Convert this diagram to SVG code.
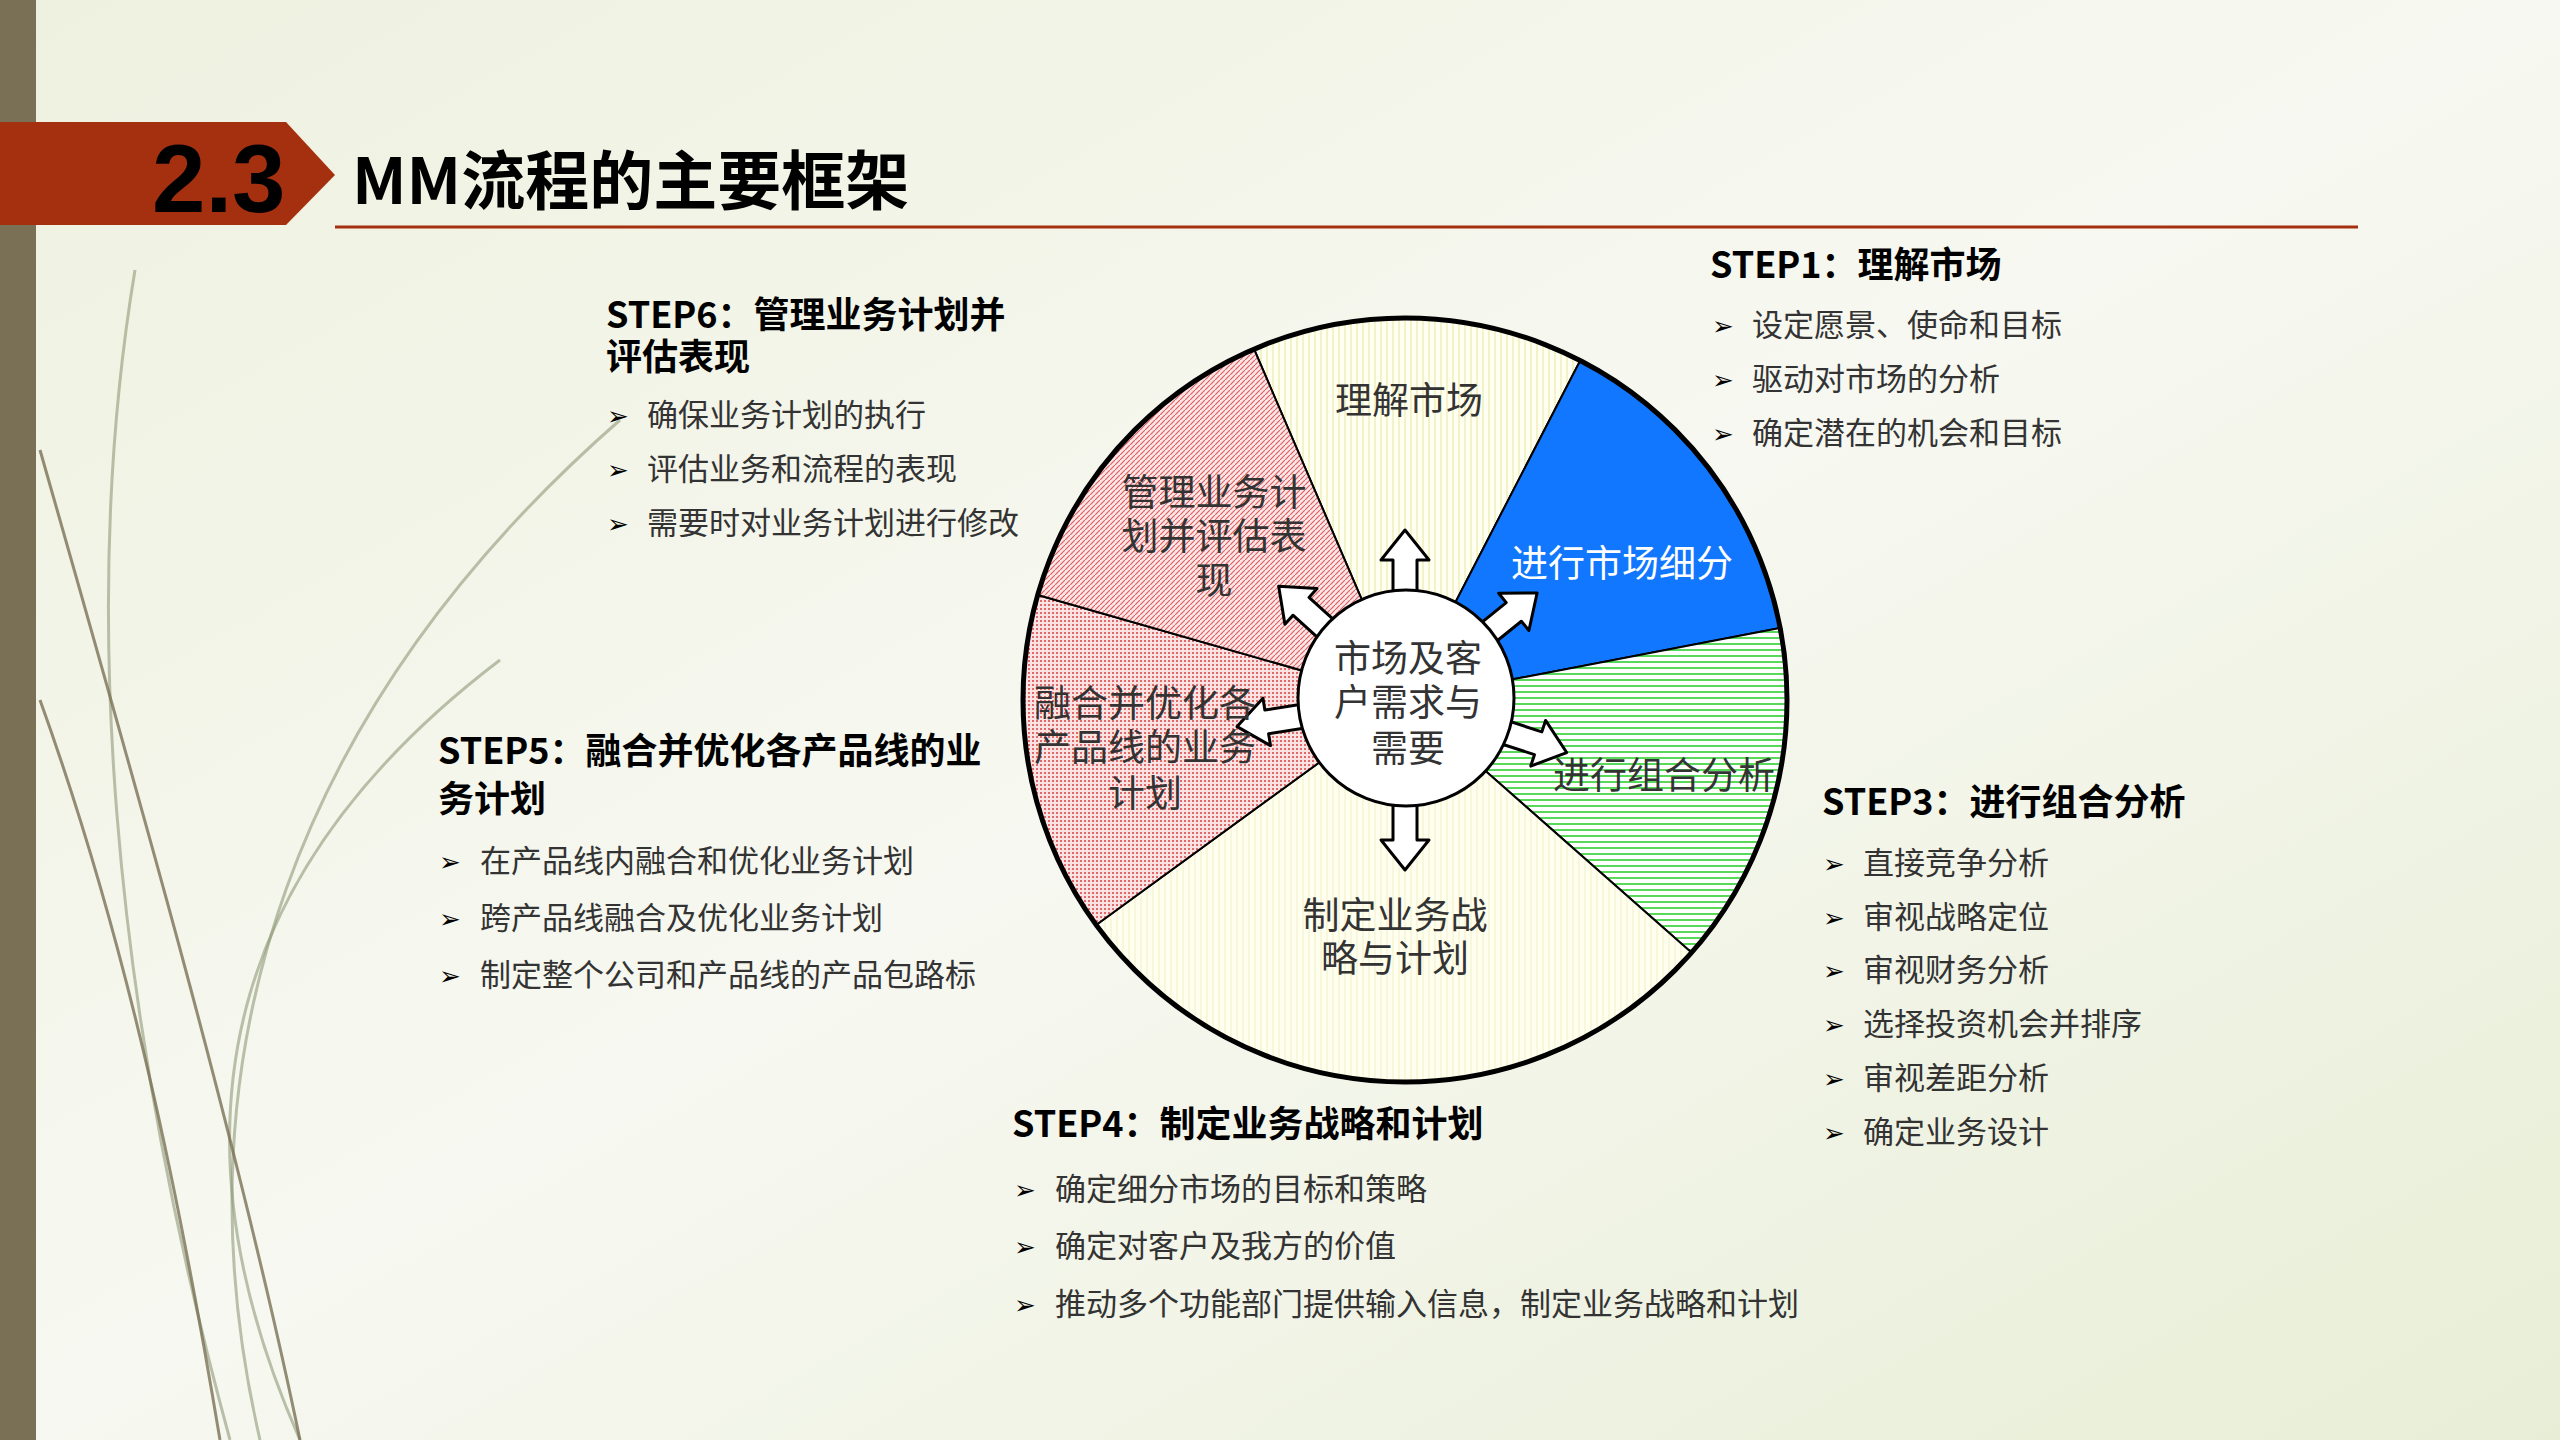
<svg xmlns="http://www.w3.org/2000/svg" width="2560" height="1440" viewBox="0 0 2560 1440">
<defs>
<linearGradient id="bg" x1="0" y1="0" x2="1" y2="1"><stop offset="0" stop-color="#eef1df"/><stop offset="0.5" stop-color="#f7f8f1"/><stop offset="1" stop-color="#e8eed6"/></linearGradient>
<pattern id="pY" width="6" height="6" patternUnits="userSpaceOnUse"><rect width="6" height="6" fill="#fffff2"/><line x1="1" y1="0" x2="1" y2="6" stroke="#e8e6a0" stroke-width="1"/></pattern>
<pattern id="pR" width="5" height="5" patternUnits="userSpaceOnUse"><rect width="5" height="5" fill="#fbe7e7"/><path d="M0 5L5 0" stroke="#e06060" stroke-width="1.2"/></pattern>
<pattern id="pD" width="4" height="4" patternUnits="userSpaceOnUse"><rect width="4" height="4" fill="#fbe3e3"/><rect width="2" height="2" fill="#e06a6a"/></pattern>
<pattern id="pG" width="6" height="6" patternUnits="userSpaceOnUse"><rect width="6" height="6" fill="#fff"/><line x1="0" y1="2" x2="6" y2="2" stroke="#22cc22" stroke-width="1.5"/></pattern>
<pattern id="pW" width="6" height="6" patternUnits="userSpaceOnUse"><rect width="6" height="6" fill="#fffff0"/><line x1="1" y1="0" x2="1" y2="6" stroke="#f2f0c8" stroke-width="1"/></pattern>
<polygon id="arr" points="95,-12 140,-12 140,-24 170,0 140,24 140,12 95,12" fill="#fff" stroke="#000" stroke-width="3" stroke-linejoin="round"/>
</defs>
<style>
.h{font-family:"Noto Sans CJK SC",sans-serif;font-weight:bold;fill:#000;font-size:36px}
.b{font-family:"Noto Sans CJK SC",sans-serif;fill:#333;font-size:31px}
.w{font-family:"Noto Sans CJK SC",sans-serif;fill:#333;font-size:37px;text-anchor:middle}
.bl{font-family:"DejaVu Sans",sans-serif;fill:#000;font-size:26px}
.dec{fill:none;stroke:#8f9a78;stroke-width:3;opacity:0.6}
</style>
<rect width="2560" height="1440" fill="url(#bg)"/>
<rect x="0" y="0" width="36" height="1440" fill="#7a7055"/>
<g id="decor">
<path class="dec" d="M135 270 C80 600 110 1000 230 1440"/>
<path class="dec" d="M500 660 C250 850 150 1100 300 1440"/>
<path class="dec" d="M620 420 C300 700 170 1050 260 1440"/>
<path class="dec" d="M40 450 C140 800 240 1150 300 1440" style="stroke:#7a7055;opacity:0.8"/>
<path class="dec" d="M40 700 C130 950 180 1200 220 1440" style="stroke:#7a7055;opacity:0.8"/>
</g>
<g id="title">
<polygon points="0,122 286,122 335,175 286,225 0,225" fill="#a5300f"/>
<line x1="335" y1="227" x2="2358" y2="227" stroke="#a5300f" stroke-width="3"/>
<text x="152" y="212" font-family="Liberation Sans,sans-serif" font-weight="bold" font-size="96" fill="#000">2.3</text>
<text x="352" y="204" font-family="Noto Sans CJK SC,sans-serif" font-size="64" font-weight="bold" fill="#000">MM流程的主要框架</text>
</g>
<g id="wheel">
<path d="M1405 700L1254 349A382 382 0 0 1 1580 361Z" fill="url(#pY)" stroke="#000" stroke-width="2"/>
<path d="M1405 700L1580 361A382 382 0 0 1 1780 628Z" fill="#1177ff" stroke="#000" stroke-width="2"/>
<path d="M1405 700L1780 628A382 382 0 0 1 1692 953Z" fill="url(#pG)" stroke="#000" stroke-width="2"/>
<path d="M1405 700L1692 953A382 382 0 0 1 1096 925Z" fill="url(#pW)" stroke="#000" stroke-width="2"/>
<path d="M1405 700L1096 925A382 382 0 0 1 1038 595Z" fill="url(#pD)" stroke="#000" stroke-width="2"/>
<path d="M1405 700L1038 595A382 382 0 0 1 1254 349Z" fill="url(#pR)" stroke="#000" stroke-width="2"/>
<circle cx="1405" cy="700" r="382" fill="none" stroke="#000" stroke-width="5"/>
</g>
<g id="arrows">
<use href="#arr" transform="translate(1405,700) rotate(-90)"/>
<use href="#arr" transform="translate(1405,700) rotate(-39)"/>
<use href="#arr" transform="translate(1405,700) rotate(18)"/>
<use href="#arr" transform="translate(1405,700) rotate(90)"/>
<use href="#arr" transform="translate(1405,700) rotate(171)"/>
<use href="#arr" transform="translate(1405,700) rotate(-138)"/>
</g>
<g id="center"><circle cx="1406" cy="698" r="108" fill="#fff" stroke="#000" stroke-width="3"/>
<text class="w" x="1408" y="672">市场及客</text><text class="w" x="1408" y="716">户需求与</text><text class="w" x="1408" y="762">需要</text></g>
<g id="labels">
<text class="w" x="1409" y="414">理解市场</text>
<text class="w" x="1214" y="506">管理业务计</text><text class="w" x="1214" y="550">划并评估表</text><text class="w" x="1214" y="594">现</text>
<text class="w" x="1622" y="577" fill="#fff" style="fill:#fff">进行市场细分</text>
<text class="w" x="1664" y="789">进行组合分析</text>
<text class="w" x="1145" y="717">融合并优化各</text><text class="w" x="1145" y="761">产品线的业务</text><text class="w" x="1145" y="807">计划</text>
<text class="w" x="1395" y="929">制定业务战</text><text class="w" x="1395" y="972">略与计划</text>
</g>
<g id="step1">
<text class="h" x="1710" y="278">STEP1：理解市场</text>
<text class="bl" x="1712" y="335">➢</text><text class="b" x="1752" y="336">设定愿景、使命和目标</text>
<text class="bl" x="1712" y="389">➢</text><text class="b" x="1752" y="390">驱动对市场的分析</text>
<text class="bl" x="1712" y="443">➢</text><text class="b" x="1752" y="444">确定潜在的机会和目标</text>
</g>
<g id="step6">
<text class="h" x="606" y="328">STEP6：管理业务计划并</text><text class="h" x="606" y="370">评估表现</text>
<text class="bl" x="607" y="425">➢</text><text class="b" x="647" y="426">确保业务计划的执行</text>
<text class="bl" x="607" y="479">➢</text><text class="b" x="647" y="480">评估业务和流程的表现</text>
<text class="bl" x="607" y="533">➢</text><text class="b" x="647" y="534">需要时对业务计划进行修改</text>
</g>
<g id="step5">
<text class="h" x="438" y="764">STEP5：融合并优化各产品线的业</text><text class="h" x="438" y="812">务计划</text>
<text class="bl" x="439" y="871">➢</text><text class="b" x="480" y="872">在产品线内融合和优化业务计划</text>
<text class="bl" x="439" y="928">➢</text><text class="b" x="480" y="929">跨产品线融合及优化业务计划</text>
<text class="bl" x="439" y="985">➢</text><text class="b" x="480" y="986">制定整个公司和产品线的产品包路标</text>
</g>
<g id="step3">
<text class="h" x="1822" y="815">STEP3：进行组合分析</text>
<text class="bl" x="1823" y="873">➢</text><text class="b" x="1863" y="874">直接竞争分析</text>
<text class="bl" x="1823" y="927">➢</text><text class="b" x="1863" y="928">审视战略定位</text>
<text class="bl" x="1823" y="980">➢</text><text class="b" x="1863" y="981">审视财务分析</text>
<text class="bl" x="1823" y="1034">➢</text><text class="b" x="1863" y="1035">选择投资机会并排序</text>
<text class="bl" x="1823" y="1088">➢</text><text class="b" x="1863" y="1089">审视差距分析</text>
<text class="bl" x="1823" y="1142">➢</text><text class="b" x="1863" y="1143">确定业务设计</text>
</g>
<g id="step4">
<text class="h" x="1012" y="1137">STEP4：制定业务战略和计划</text>
<text class="bl" x="1014" y="1199">➢</text><text class="b" x="1055" y="1200">确定细分市场的目标和策略</text>
<text class="bl" x="1014" y="1256">➢</text><text class="b" x="1055" y="1257">确定对客户及我方的价值</text>
<text class="bl" x="1014" y="1314">➢</text><text class="b" x="1055" y="1315">推动多个功能部门提供输入信息，制定业务战略和计划</text>
</g>
</svg>
